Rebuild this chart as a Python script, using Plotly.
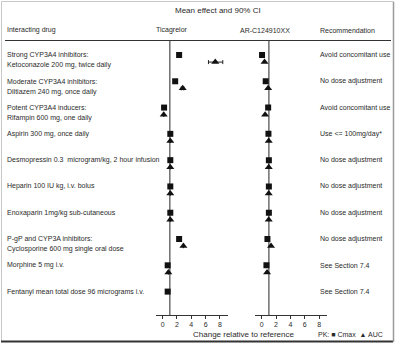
import plotly.graph_objects as go

# ---------------- data ----------------
drug_lines = [
    ["Strong CYP3A4 inhibitors:", "Ketoconazole 200 mg, twice daily"],
    ["Moderate CYP3A4 inhibitors:", "Diltiazem 240 mg, once daily"],
    ["Potent CYP3A4 inducers:", "Rifampin 600 mg, one daily"],
    ["Aspirin 300 mg, once daily"],
    ["Desmopressin 0.3  microgram/kg, 2 hour infusion"],
    ["Heparin 100 IU kg, i.v. bolus"],
    ["Enoxaparin 1mg/kg sub-cutaneous"],
    ["P-gP and CYP3A inhibitors:", "Cyclosporine 600 mg single oral dose"],
    ["Morphine 5 mg i.v."],
    ["Fentanyl mean total dose 96 micrograms i.v."],
]
recommendations = [
    "Avoid concomitant use", "No dose adjustment", "Avoid concomitant use",
    "Use <= 100mg/day*", "No dose adjustment", "No dose adjustment",
    "No dose adjustment", "No dose adjustment", "See Section 7.4", "See Section 7.4",
]
rows = list(range(len(drug_lines)))

tica_cmax = [2.3, 1.75, 0.2, 1.07, 1.07, 1.07, 1.07, 2.3, 0.7, 0.7]
tica_auc = [7.35, 2.8, 0.15, 1.07, 1.07, 1.07, 1.07, 2.9, 0.8, None]
tica_auc_lo = [6.4, 2.6, None, None, None, None, None, None, None, None]
tica_auc_hi = [8.4, 2.95, None, None, None, None, None, None, None, None]

arc_cmax = [0.05, 0.56, 0.9, 0.94, 1.0, 1.0, 1.0, 0.8, 0.66, None]
arc_auc = [0.4, 0.9, 0.48, 0.98, 0.98, 0.98, 0.98, 1.3, 0.75, None]

x_ticks = [0, 2, 4, 6, 8]
ref_value = 1

# ---------------- style ----------------
W, H = 400, 346
FONT = "Liberation Sans, Arial, sans-serif"
TXT = "#2a2a2a"
GRID = "#6e6e6e"
AUC_OFFSET = 0.27
def py(px):
    return (H - px) / H
def pxx(px):
    return px / W

y_top, y_bot = 40, 315
dom_y = [py(y_bot), py(y_top)]
y_range = [9.89, -0.57]
x_range = [-0.93, 9.13]

fig = go.Figure()

def add_panel(cmax, auc, xa, ya, lo=None, hi=None):
    xs_c = [v for v in cmax if v is not None]
    ys_c = [r for r, v in zip(rows, cmax) if v is not None]
    fig.add_trace(go.Scatter(x=xs_c, y=ys_c, mode="markers", xaxis=xa, yaxis=ya,
                             marker=dict(symbol="square", size=6, color="#111"),
                             showlegend=False, hoverinfo="skip"))
    xs_a, ys_a, em, ep = [], [], [], []
    for i, v in enumerate(auc):
        if v is None:
            continue
        xs_a.append(v)
        ys_a.append(rows[i] + AUC_OFFSET)
        if lo is not None and lo[i] is not None:
            em.append(v - lo[i]); ep.append(hi[i] - v)
        else:
            em.append(0); ep.append(0)
    err = None
    if lo is not None:
        err = dict(type="data", array=ep, arrayminus=em, symmetric=False,
                   color="#222", thickness=1, width=2)
    fig.add_trace(go.Scatter(x=xs_a, y=ys_a, mode="markers", xaxis=xa, yaxis=ya,
                             error_x=err,
                             marker=dict(symbol="triangle-up", size=7, color="#111"),
                             showlegend=False, hoverinfo="skip"))

add_panel(tica_cmax, tica_auc, "x", "y", tica_auc_lo, tica_auc_hi)
add_panel(arc_cmax, arc_auc, "x2", "y2")

axis_common = dict(range=x_range, tickmode="array", tickvals=x_ticks,
                   ticks="outside", ticklen=3, tickwidth=1, tickcolor="#333",
                   showline=True, linecolor="#333", linewidth=1,
                   showgrid=False, zeroline=False,
                   tickfont=dict(family=FONT, size=7, color=TXT), anchor=None)
fig.update_layout(
    xaxis=dict(axis_common, domain=[pxx(156), pxx(228)], anchor="y"),
    xaxis2=dict(axis_common, domain=[pxx(255), pxx(327.3)], anchor="y2"),
    yaxis=dict(domain=dom_y, range=y_range, visible=False),
    yaxis2=dict(domain=dom_y, range=y_range, visible=False, anchor="x2"),
)

shapes = []
# reference lines at 1
for xr in ["x", "x2"]:
    shapes.append(dict(type="line", xref=xr, yref="paper", x0=ref_value, x1=ref_value,
                       y0=dom_y[0], y1=dom_y[1], line=dict(color=GRID, width=1.5),
                       layer="below"))
# header rule
shapes.append(dict(type="line", xref="paper", yref="paper", x0=pxx(5), x1=pxx(391),
                   y0=py(40.5), y1=py(40.5), line=dict(color="#333", width=1.2)))
# frame
shapes.append(dict(type="rect", xref="paper", yref="paper", x0=pxx(1.5), x1=pxx(393.5),
                   y0=py(341.5), y1=py(1.5), line=dict(color="#c8c8c8", width=1)))
shapes.append(dict(type="line", xref="paper", yref="paper", x0=pxx(1), x1=pxx(393),
                   y0=py(341.5), y1=py(341.5), line=dict(color="#333", width=2)))
shapes.append(dict(type="line", xref="paper", yref="paper", x0=pxx(393.5), x1=pxx(393.5),
                   y0=py(342), y1=py(2), line=dict(color="#9a9a9a", width=1.5)))

ann = []
def text(x, y, s, size=7, xanchor="left", yref="paper", color=TXT):
    ann.append(dict(x=x, y=y, xref="paper", yref=yref, text=s, showarrow=False,
                    xanchor=xanchor, yanchor="middle",
                    font=dict(family=FONT, size=size, color=color)))

text(pxx(218), py(11), "Mean effect and 90% CI", size=8, xanchor="center")
text(pxx(5), py(30), "Interacting drug")
text(pxx(172), py(30), "Ticagrelor", xanchor="center")
text(pxx(265), py(30), "AR-C124910XX", xanchor="center")
text(pxx(318), py(30), "Recommendation")

for r, lines in zip(rows, drug_lines):
    for k, s in enumerate(lines):
        text(pxx(5), r + k * 0.39, s, yref="y")
for r, s in zip(rows, recommendations):
    text(pxx(318), r, s, yref="y")

text(pxx(244), py(334), "Change relative to reference", size=8, xanchor="center")
text(pxx(316), py(334), "PK: \u25A0 Cmax  \u25B2 AUC", size=7)

fig.update_layout(
    width=W, height=H, margin=dict(l=0, r=0, t=0, b=0),
    paper_bgcolor="white", plot_bgcolor="rgba(0,0,0,0)",
    shapes=shapes, annotations=ann, showlegend=False,
)
fig.write_html("out.html")
